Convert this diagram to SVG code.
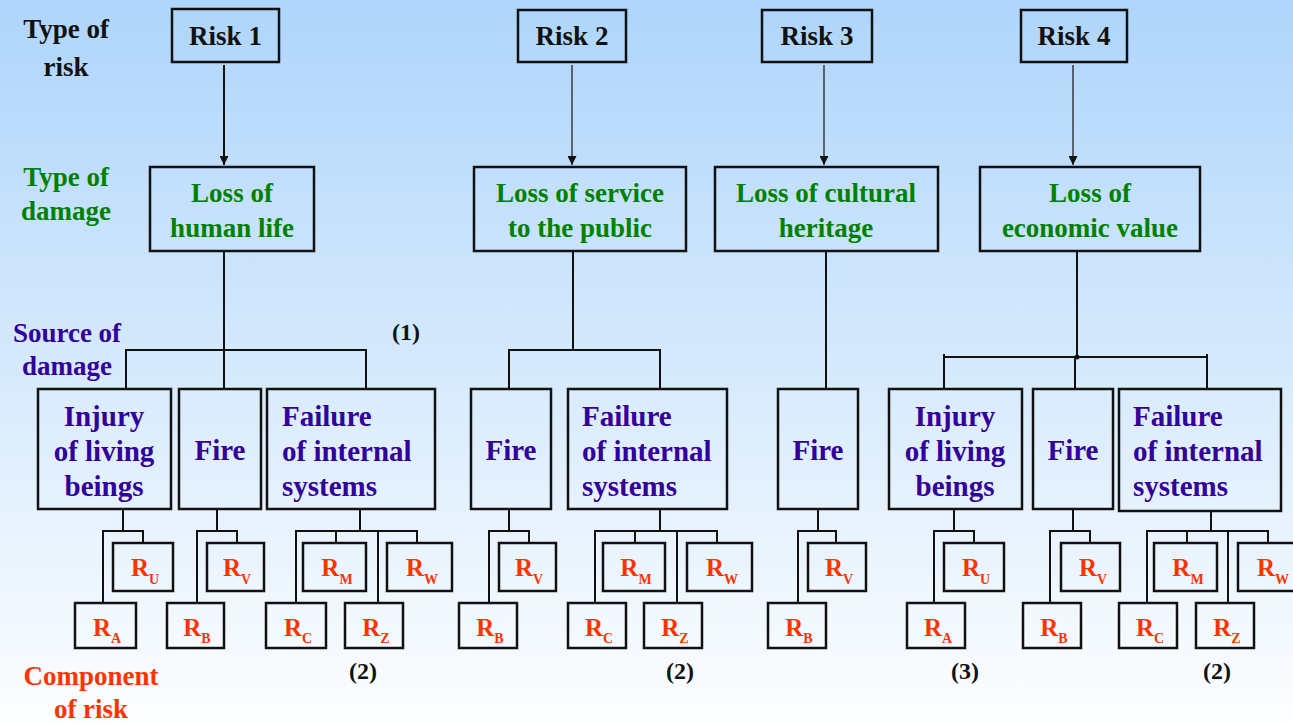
<svg xmlns="http://www.w3.org/2000/svg" width="1293" height="724" viewBox="0 0 1293 724">
<defs>
<linearGradient id="bg" x1="0" y1="0" x2="0" y2="1">
<stop offset="0" stop-color="#aed5fb"/>
<stop offset="1" stop-color="#fdfeff"/>
</linearGradient>
<marker id="ah" viewBox="0 0 10 10" refX="10" refY="5" markerWidth="10" markerHeight="9" markerUnits="userSpaceOnUse" orient="auto">
<path d="M0,0 L10,5 L0,10 z" fill="#111"/>
</marker>
<style>
text{font-family:"Liberation Serif","Times New Roman",serif;font-weight:bold;}
.box{fill:none;stroke:#111;stroke-width:2.5;}
.ln{fill:none;stroke:#111;stroke-width:2;}
.arr{fill:none;stroke:#222;stroke-width:1.3;}
.lab{font-size:27px;text-anchor:middle;}
.blk{fill:#111;}
.grn{fill:#008000;}
.ind{fill:#330099;}
.org{fill:#ff3300;}
.risk{font-size:27px;text-anchor:middle;fill:#111;}
.loss{font-size:27px;text-anchor:middle;fill:#008000;}
.src{font-size:29px;fill:#330099;}
.mid{text-anchor:middle;}
.comp{font-size:25px;fill:#ff3300;text-anchor:middle;}
.sub{font-size:14px;}
.num{font-size:24px;fill:#111;text-anchor:middle;}
</style>
</defs>
<rect x="0" y="0" width="1293" height="724" fill="url(#bg)"/>

<g id="row-labels">
<text class="lab blk" x="66" y="38">Type of</text>
<text class="lab blk" x="66" y="76">risk</text>
<text class="lab grn" x="66" y="186">Type of</text>
<text class="lab grn" x="66" y="220">damage</text>
<text class="lab ind" x="67" y="342">Source of</text>
<text class="lab ind" x="67" y="375">damage</text>
<text class="lab org" x="91" y="685">Component</text>
<text class="lab org" x="91" y="718">of risk</text>
</g>

<g id="connectors">
<!-- arrows risk to damage -->
<line x1="224" y1="65" x2="224" y2="165" class="ln" marker-end="url(#ah)"/>
<line x1="572" y1="65" x2="572" y2="165" class="arr" marker-end="url(#ah)"/>
<line x1="824" y1="65" x2="824" y2="165" class="arr" marker-end="url(#ah)"/>
<line x1="1073" y1="65" x2="1073" y2="165" class="arr" marker-end="url(#ah)"/>
<!-- risk 1 -->
<path class="ln" d="M224,251 V389 M126,389 V350 H366 V389"/>
<path class="ln" d="M123,509 V531 M143,543 V531 H103 V603"/>
<path class="ln" d="M217,509 V531 M237,543 V531 H197 V603"/>
<path class="ln" d="M360,509 V531 M296,603 V531 H417 V543 M336,531 V543 M378,531 V603"/>
<!-- risk 2 -->
<path class="ln" d="M573,251 V350 M509,389 V350 H660 V389"/>
<path class="ln" d="M509,509 V531 M529,543 V531 H489 V603"/>
<path class="ln" d="M660,509 V531 M595,603 V531 H717 V543 M635,531 V543 M677,531 V603"/>
<!-- risk 3 -->
<path class="ln" d="M826,251 V389"/>
<path class="ln" d="M818,509 V531 M836,543 V531 H798 V603"/>
<!-- risk 4 -->
<path class="ln" d="M1077,251 V357 M944,389 V354 M944,357 H1207 M1207,354 V389 M1075,357 V389"/>
<circle cx="1077" cy="357" r="2.5" fill="#111"/>
<path class="ln" d="M954,509 V531 M974,543 V531 H934 V603"/>
<path class="ln" d="M1073,509 V531 M1090,543 V531 H1050 V603"/>
<path class="ln" d="M1211,511 V531 M1147,603 V531 H1268 V543 M1187,531 V543 M1228,531 V603"/>
</g>

<g id="risk1"><rect class="box" x="172" y="9" width="107" height="53"/><text class="risk" x="225.5" y="45">Risk 1</text></g>
<g id="risk2"><rect class="box" x="518" y="10" width="108" height="52"/><text class="risk" x="572" y="45">Risk 2</text></g>
<g id="risk3"><rect class="box" x="762" y="10" width="110" height="52"/><text class="risk" x="817" y="45">Risk 3</text></g>
<g id="risk4"><rect class="box" x="1021" y="10" width="106" height="52"/><text class="risk" x="1074" y="45">Risk 4</text></g>

<g id="loss-human-life"><rect class="box" x="150" y="167" width="164" height="84"/><text class="loss" x="232" y="202">Loss of</text><text class="loss" x="232" y="237">human life</text></g>
<g id="loss-service"><rect class="box" x="474" y="167" width="212" height="84"/><text class="loss" x="580" y="202">Loss of service</text><text class="loss" x="580" y="237">to the public</text></g>
<g id="loss-cultural"><rect class="box" x="715" y="167" width="223" height="84"/><text class="loss" x="826" y="202">Loss of cultural</text><text class="loss" x="826" y="237">heritage</text></g>
<g id="loss-economic"><rect class="box" x="980" y="167" width="220" height="84"/><text class="loss" x="1090" y="202">Loss of</text><text class="loss" x="1090" y="237">economic value</text></g>

<!-- risk 1 sources -->
<g id="r1-injury"><rect class="box" x="38" y="389" width="133" height="120"/><text class="src mid" x="104" y="426">Injury</text><text class="src mid" x="104" y="461">of living</text><text class="src mid" x="104" y="496">beings</text></g>
<g id="r1-fire"><rect class="box" x="179" y="389" width="82" height="120"/><text class="src mid" x="220" y="460">Fire</text></g>
<g id="r1-failure"><rect class="box" x="267" y="389" width="168" height="120"/><text class="src" x="282" y="426">Failure</text><text class="src" x="282" y="461">of internal</text><text class="src" x="282" y="496">systems</text></g>
<!-- risk 2 sources -->
<g id="r2-fire"><rect class="box" x="471" y="389" width="80" height="120"/><text class="src mid" x="511" y="460">Fire</text></g>
<g id="r2-failure"><rect class="box" x="568" y="389" width="159" height="120"/><text class="src" x="582" y="426">Failure</text><text class="src" x="582" y="461">of internal</text><text class="src" x="582" y="496">systems</text></g>
<!-- risk 3 source -->
<g id="r3-fire"><rect class="box" x="778" y="389" width="80" height="120"/><text class="src mid" x="818" y="460">Fire</text></g>
<!-- risk 4 sources -->
<g id="r4-injury"><rect class="box" x="889" y="389" width="133" height="120"/><text class="src mid" x="955" y="426">Injury</text><text class="src mid" x="955" y="461">of living</text><text class="src mid" x="955" y="496">beings</text></g>
<g id="r4-fire"><rect class="box" x="1033" y="389" width="80" height="120"/><text class="src mid" x="1073" y="460">Fire</text></g>
<g id="r4-failure"><rect class="box" x="1119" y="389" width="162" height="122"/><text class="src" x="1133" y="426">Failure</text><text class="src" x="1133" y="461">of internal</text><text class="src" x="1133" y="496">systems</text></g>

<!-- components risk 1 -->
<g id="r1-RU"><rect class="box" x="113" y="543" width="60" height="48"/><text class="comp" x="145" y="576">R<tspan class="sub" dy="8">U</tspan></text></g>
<g id="r1-RA"><rect class="box" x="75" y="603" width="61" height="45"/><text class="comp" x="107" y="636">R<tspan class="sub" dy="7">A</tspan></text></g>
<g id="r1-RV"><rect class="box" x="207" y="543" width="57" height="48"/><text class="comp" x="237" y="576">R<tspan class="sub" dy="8">V</tspan></text></g>
<g id="r1-RB"><rect class="box" x="167" y="603" width="57" height="45"/><text class="comp" x="197" y="636">R<tspan class="sub" dy="7">B</tspan></text></g>
<g id="r1-RM"><rect class="box" x="303" y="543" width="63" height="48"/><text class="comp" x="337" y="576">R<tspan class="sub" dy="8">M</tspan></text></g>
<g id="r1-RW"><rect class="box" x="387" y="543" width="65" height="48"/><text class="comp" x="422" y="576">R<tspan class="sub" dy="8">W</tspan></text></g>
<g id="r1-RC"><rect class="box" x="266" y="603" width="60" height="45"/><text class="comp" x="298" y="636">R<tspan class="sub" dy="7">C</tspan></text></g>
<g id="r1-RZ"><rect class="box" x="345" y="603" width="58" height="45"/><text class="comp" x="376" y="636">R<tspan class="sub" dy="7">Z</tspan></text></g>
<!-- components risk 2 -->
<g id="r2-RV"><rect class="box" x="499" y="543" width="57" height="48"/><text class="comp" x="529" y="576">R<tspan class="sub" dy="8">V</tspan></text></g>
<g id="r2-RB"><rect class="box" x="459" y="603" width="58" height="45"/><text class="comp" x="490" y="636">R<tspan class="sub" dy="7">B</tspan></text></g>
<g id="r2-RM"><rect class="box" x="603" y="543" width="62" height="48"/><text class="comp" x="636" y="576">R<tspan class="sub" dy="8">M</tspan></text></g>
<g id="r2-RW"><rect class="box" x="687" y="543" width="65" height="48"/><text class="comp" x="722" y="576">R<tspan class="sub" dy="8">W</tspan></text></g>
<g id="r2-RC"><rect class="box" x="568" y="603" width="58" height="45"/><text class="comp" x="599" y="636">R<tspan class="sub" dy="7">C</tspan></text></g>
<g id="r2-RZ"><rect class="box" x="644" y="603" width="58" height="45"/><text class="comp" x="675" y="636">R<tspan class="sub" dy="7">Z</tspan></text></g>
<!-- components risk 3 -->
<g id="r3-RV"><rect class="box" x="808" y="543" width="58" height="48"/><text class="comp" x="839" y="576">R<tspan class="sub" dy="8">V</tspan></text></g>
<g id="r3-RB"><rect class="box" x="768" y="603" width="58" height="45"/><text class="comp" x="799" y="636">R<tspan class="sub" dy="7">B</tspan></text></g>
<!-- components risk 4 -->
<g id="r4-RU"><rect class="box" x="944" y="543" width="60" height="48"/><text class="comp" x="976" y="576">R<tspan class="sub" dy="8">U</tspan></text></g>
<g id="r4-RA"><rect class="box" x="907" y="603" width="58" height="45"/><text class="comp" x="938" y="636">R<tspan class="sub" dy="7">A</tspan></text></g>
<g id="r4-RV"><rect class="box" x="1061" y="543" width="59" height="48"/><text class="comp" x="1093" y="576">R<tspan class="sub" dy="8">V</tspan></text></g>
<g id="r4-RB"><rect class="box" x="1023" y="603" width="58" height="45"/><text class="comp" x="1054" y="636">R<tspan class="sub" dy="7">B</tspan></text></g>
<g id="r4-RM"><rect class="box" x="1154" y="543" width="63" height="48"/><text class="comp" x="1188" y="576">R<tspan class="sub" dy="8">M</tspan></text></g>
<g id="r4-RW"><rect class="box" x="1238" y="543" width="65" height="48"/><text class="comp" x="1273" y="576">R<tspan class="sub" dy="8">W</tspan></text></g>
<g id="r4-RC"><rect class="box" x="1119" y="603" width="58" height="45"/><text class="comp" x="1150" y="636">R<tspan class="sub" dy="7">C</tspan></text></g>
<g id="r4-RZ"><rect class="box" x="1196" y="603" width="58" height="45"/><text class="comp" x="1227" y="636">R<tspan class="sub" dy="7">Z</tspan></text></g>

<g id="notes">
<text class="num" x="406" y="340">(1)</text>
<text class="num" x="363" y="679">(2)</text>
<text class="num" x="680" y="679">(2)</text>
<text class="num" x="965" y="679">(3)</text>
<text class="num" x="1217" y="679">(2)</text>
</g>
</svg>
